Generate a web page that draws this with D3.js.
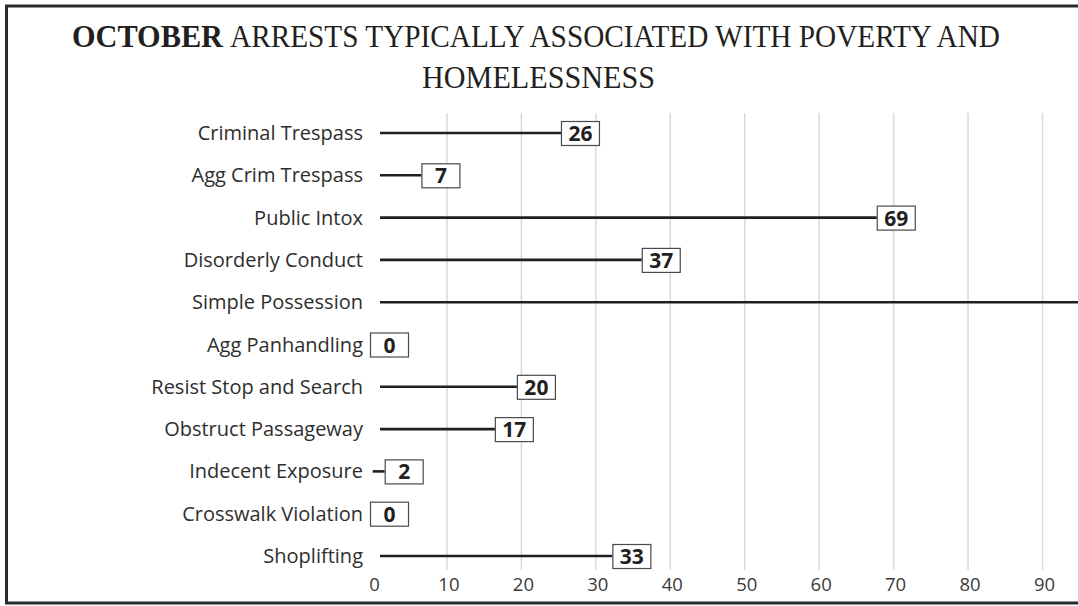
<!DOCTYPE html>
<html><head><meta charset="utf-8">
<script src="https://cdn.jsdelivr.net/npm/d3@7/dist/d3.min.js"></script>
<style>html,body{margin:0;padding:0;background:#fff;}svg{display:block;}</style>
</head><body>
<script>
const categories = ["Criminal Trespass","Agg Crim Trespass","Public Intox","Disorderly Conduct","Simple Possession","Agg Panhandling","Resist Stop and Search","Obstruct Passageway","Indecent Exposure","Crosswalk Violation","Shoplifting"];
const arrests = [26, 7, 69, 37, 104, 0, 20, 17, 2, 0, 33];
const tickValues = [0,10,20,30,40,50,60,70,80,90];
const titleBold = "OCTOBER";
const titleLine1 = "ARRESTS TYPICALLY ASSOCIATED WITH POVERTY AND";
const titleLine2 = "HOMELESSNESS";

const W = 1078, H = 606;
const svg = d3.select("body").append("svg").attr("width", W).attr("height", H);

// frame
svg.append("rect").attr("x",6.5).attr("y",6).attr("width",W+20).attr("height",597)
  .attr("fill","none").attr("stroke","#2b2b2b").attr("stroke-width",3);

// title
const serif = "'Liberation Serif', 'DejaVu Serif', serif";
svg.append("text").attr("x",72).attr("y",47)
  .attr("font-family",serif).attr("font-weight","bold").attr("font-size",31).attr("fill","#231f20")
  .attr("textLength",151).attr("lengthAdjust","spacingAndGlyphs").text(titleBold);
svg.append("text").attr("x",230).attr("y",47)
  .attr("font-family",serif).attr("font-size",31).attr("fill","#231f20")
  .attr("textLength",770).attr("lengthAdjust","spacingAndGlyphs").text(titleLine1);
svg.append("text").attr("x",422).attr("y",88)
  .attr("font-family",serif).attr("font-size",31).attr("fill","#231f20")
  .attr("textLength",233).attr("lengthAdjust","spacingAndGlyphs").text(titleLine2);

const x = d3.scaleLinear().domain([0,90]).range([372,1042]);
const y = d3.scalePoint().domain(categories).range([133,556]);

// grid + x axis
const gridTop = 113, gridBottom = 570;
const ax = svg.append("g").attr("transform",`translate(0,${gridBottom})`)
  .call(d3.axisBottom(x).tickValues(tickValues).tickSize(-(gridBottom-gridTop)).tickPadding(5).tickFormat(d3.format("d")));
ax.select(".domain").remove();
ax.selectAll(".tick line").attr("stroke","#d9d9d9").attr("stroke-width",1.5)
  .attr("display", d => d===0 ? "none" : null);
ax.selectAll(".tick text").attr("font-family","'Open Sans', sans-serif").attr("font-size",18.5)
  .attr("fill","#3a3a3a").attr("dy","0.85em").attr("dx",2);

// category labels
svg.append("g").selectAll("text").data(categories).join("text")
  .attr("x",363).attr("y",d=>y(d)).attr("dy","0.35em").attr("text-anchor","end")
  .attr("font-family","'Open Sans', sans-serif").attr("font-size",20).attr("fill","#2e2e2e")
  .text(d=>d);

const data = categories.map((c,i)=>({c, v: arrests[i]}));
const boxW = 38, boxH = 24;
const boxLeft = d => x(d.v) - 2 - 0.1*d.v;

// lines
svg.append("g").selectAll("line").data(data.filter(d=>d.v>0)).join("line")
  .attr("x1", d => Math.min(x(0)+8, boxLeft(d)-12))
  .attr("x2", d => Math.min(boxLeft(d), W+10))
  .attr("y1", d=>y(d.c)).attr("y2", d=>y(d.c))
  .attr("stroke","#231f20").attr("stroke-width",2.6);

// value boxes (those beyond the visible frame are not drawn, as in the reference)
const vb = svg.append("g").selectAll("g").data(data.filter(d=>boxLeft(d) < W)).join("g")
  .attr("transform", d=>`translate(${boxLeft(d)},${y(d.c)-boxH/2})`);
vb.append("rect").attr("x",0.5).attr("y",0.5).attr("width",boxW).attr("height",boxH)
  .attr("fill","#fff").attr("stroke","#4a4a4a").attr("stroke-width",1.2);
vb.append("text").attr("x",boxW/2+0.5).attr("y",boxH/2+0.5).attr("dy","0.36em").attr("text-anchor","middle")
  .attr("font-family","'Open Sans', sans-serif").attr("font-weight","bold").attr("font-size",21).attr("fill","#231f20")
  .text(d=>d.v);
</script>
</body></html>
